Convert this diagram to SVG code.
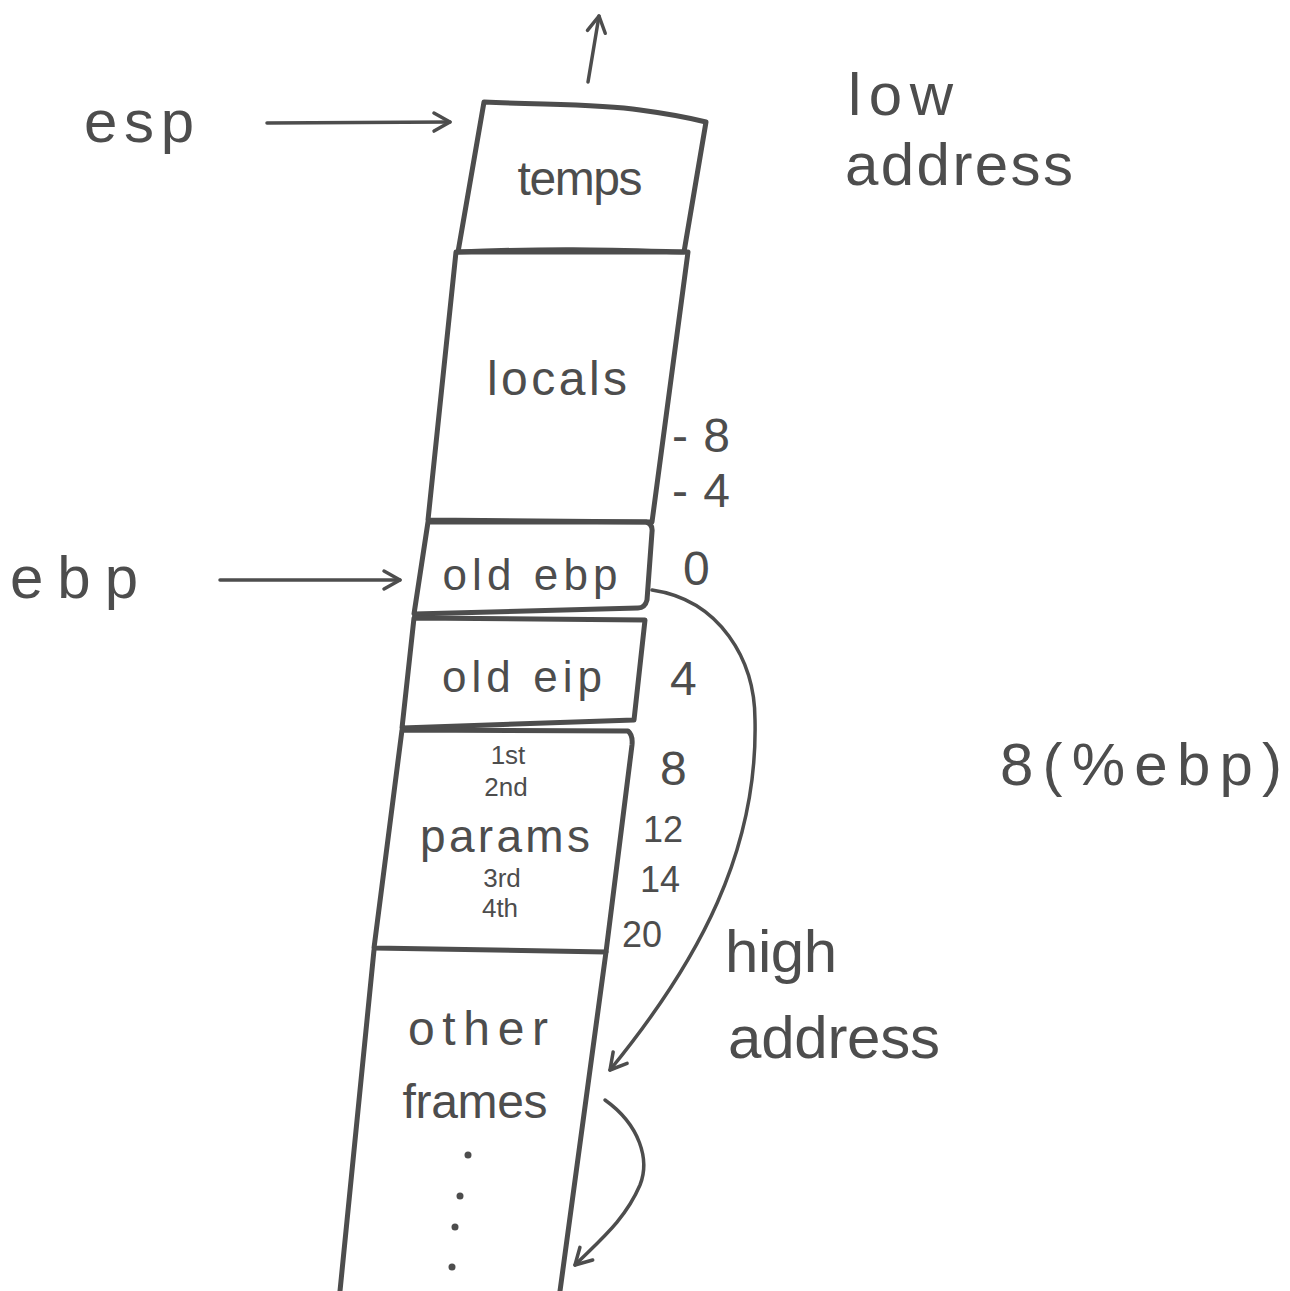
<svg xmlns="http://www.w3.org/2000/svg" width="1290" height="1291" viewBox="0 0 1290 1291">
<style>
.ln{fill:none;stroke:#4d4d4d;stroke-width:5;stroke-linecap:round;stroke-linejoin:round}
.cn{fill:none;stroke:#4d4d4d;stroke-width:3.5;stroke-linecap:round;stroke-linejoin:round}
text{font-family:"Liberation Sans","DejaVu Sans",sans-serif;fill:#4d4d4d}
.big{font-size:60px}
.mid{font-size:48px}
.par{font-size:46px}
.box{font-size:44px}
.sm{font-size:36px}
.xs{font-size:26px}
</style>
<defs>
<marker id="ah" viewBox="0 0 24 24" refX="21" refY="12" markerWidth="24" markerHeight="24" markerUnits="userSpaceOnUse" orient="auto" overflow="visible">
<path d="M5,3 L21,12 L5,21" fill="none" stroke="#4d4d4d" stroke-width="3.5" stroke-linecap="round" stroke-linejoin="round"/>
</marker>
</defs>
<rect width="1290" height="1291" fill="#ffffff"/>

<g id="temps">
<path class="ln" d="M484,102 C550,105 600,104 640,110 C670,114 690,118 706,122 L684,252 C610,250 560,248 458,252 L484,102 Z"/>
<text class="mid" x="580" y="195" text-anchor="middle" textLength="125" lengthAdjust="spacing">temps</text>
</g>

<g id="locals">
<path class="ln" d="M456,252 L688,252 L652,522 L428,520 Z"/>
<text class="mid" x="557" y="395" text-anchor="middle" textLength="140" lengthAdjust="spacing">locals</text>
</g>

<g id="old_ebp">
<path class="ln" d="M428,522 L646,522 Q653,524 652,532 L647,600 Q645,608 638,608 L414,614 Z"/>
<text class="box" x="530" y="590" text-anchor="middle" textLength="175" lengthAdjust="spacing">old ebp</text>
</g>

<g id="old_eip">
<path class="ln" d="M414,618 L645,620 L634,720 L402,728 Z"/>
<text class="box" x="522" y="692" text-anchor="middle" textLength="160" lengthAdjust="spacing">old eip</text>
</g>

<g id="params">
<path class="ln" d="M402,730 L628,731 Q633,735 632,745 L606,952 L374,948 Z"/>
<text class="xs" x="508" y="764" text-anchor="middle">1st</text>
<text class="xs" x="506" y="796" text-anchor="middle">2nd</text>
<text class="par" x="505" y="852" text-anchor="middle" textLength="170" lengthAdjust="spacing">params</text>
<text class="xs" x="502" y="887" text-anchor="middle">3rd</text>
<text class="xs" x="500" y="917" text-anchor="middle">4th</text>
</g>

<g id="other_frames">
<path class="ln" d="M374,950 L340,1291"/>
<path class="ln" d="M606,952 L560,1291"/>
<text class="mid" x="478" y="1045" text-anchor="middle" textLength="140" lengthAdjust="spacing">other</text>
<text class="mid" x="475" y="1118" text-anchor="middle" textLength="145" lengthAdjust="spacing">frames</text>
<circle cx="468" cy="1155" r="3.5" fill="#4d4d4d"/>
<circle cx="460" cy="1196" r="3.5" fill="#4d4d4d"/>
<circle cx="455" cy="1227" r="3.5" fill="#4d4d4d"/>
<circle cx="452" cy="1267" r="3.5" fill="#4d4d4d"/>
</g>

<g id="labels">
<text class="big" x="84" y="142" textLength="110" lengthAdjust="spacing">esp</text>
<text class="big" x="10" y="598" textLength="128" lengthAdjust="spacing">ebp</text>
<text class="big" x="848" y="115" textLength="105" lengthAdjust="spacing">low</text>
<text class="big" x="845" y="185" textLength="228" lengthAdjust="spacing">address</text>
<text class="big" x="725" y="972" textLength="112" lengthAdjust="spacing">high</text>
<text class="big" x="728" y="1058" textLength="212" lengthAdjust="spacing">address</text>
<text class="big" x="1000" y="785" textLength="282" lengthAdjust="spacing">8(%ebp)</text>
</g>

<g id="offsets">
<text class="mid" x="672" y="452" textLength="58" lengthAdjust="spacing">-8</text>
<text class="mid" x="672" y="507" textLength="58" lengthAdjust="spacing">-4</text>
<text class="mid" x="683" y="585">0</text>
<text class="mid" x="670" y="695">4</text>
<text class="mid" x="660" y="785">8</text>
<text class="sm" x="643" y="842">12</text>
<text class="sm" x="640" y="892">14</text>
<text class="sm" x="622" y="947">20</text>
</g>

<g id="connectors">
<path class="cn" d="M588,82 L599,16" marker-end="url(#ah)"/>
<path class="cn" d="M267,123 L450,122" marker-end="url(#ah)"/>
<path class="cn" d="M220,580 L400,580" marker-end="url(#ah)"/>
<path class="cn" d="M652,590 C720,600 755,660 755,720 C758,850 700,960 610,1070" marker-end="url(#ah)"/>
<path class="cn" d="M605,1100 C640,1125 650,1160 640,1185 C625,1220 600,1240 575,1265" marker-end="url(#ah)"/>
</g>
</svg>
